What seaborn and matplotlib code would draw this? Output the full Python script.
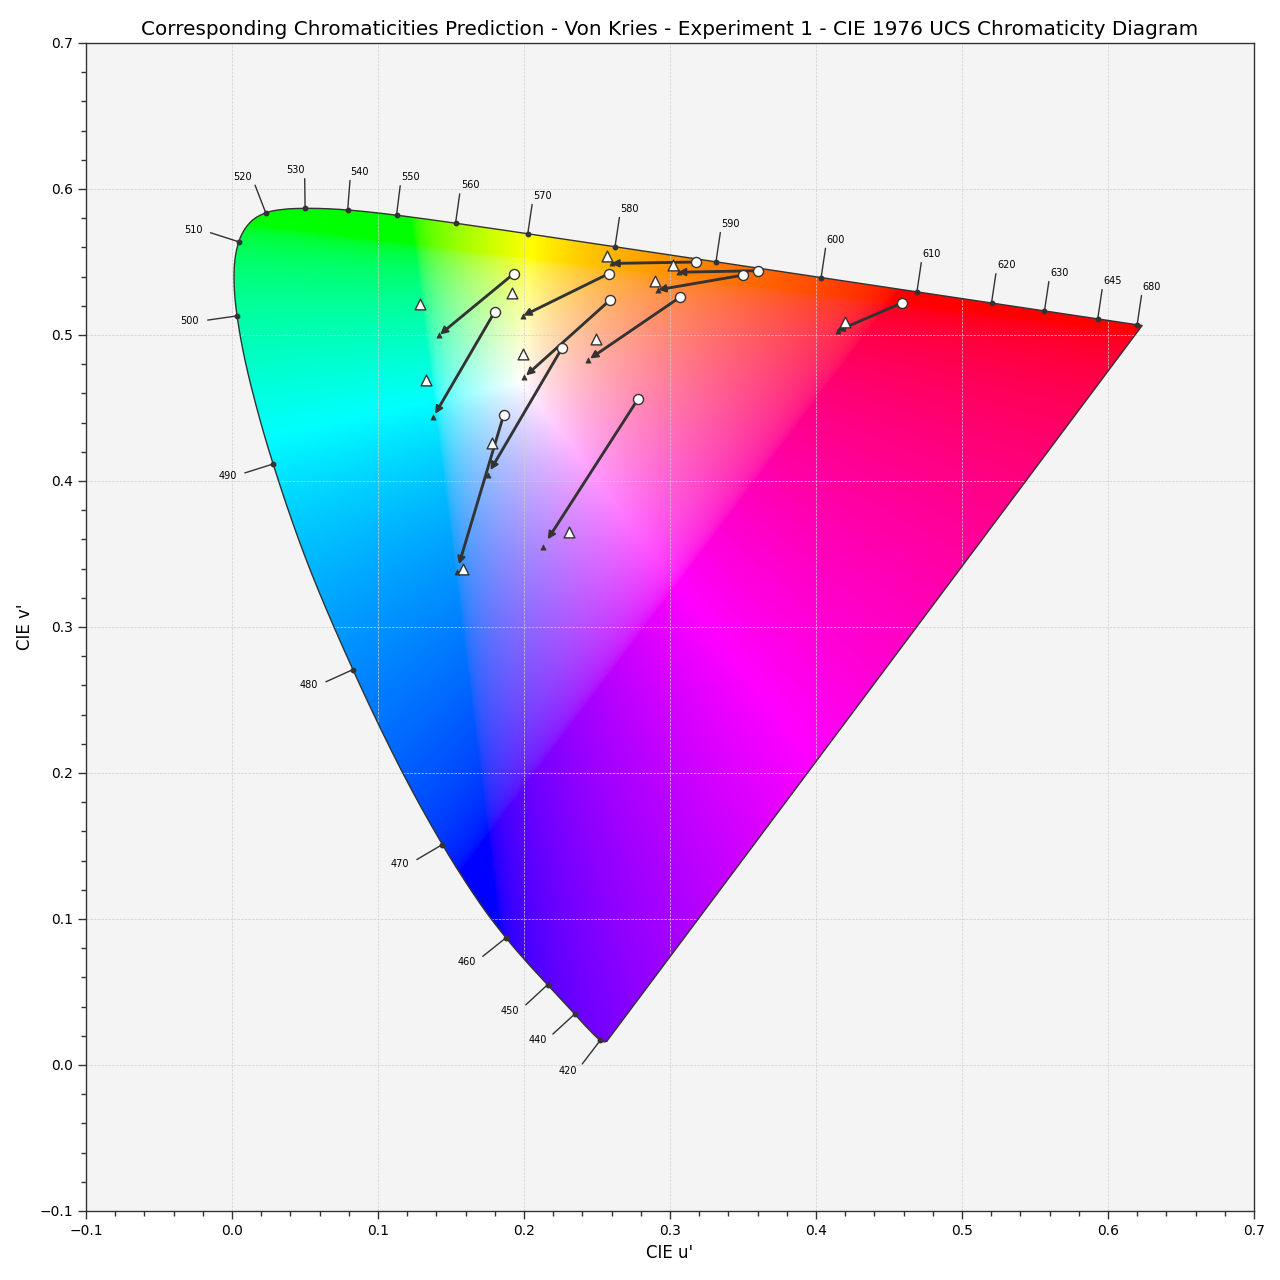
import numpy as np
import pandas as pd
import matplotlib
matplotlib.use("Agg")
import matplotlib.pyplot as plt
import seaborn as sns
from matplotlib.patches import Polygon
from matplotlib.ticker import MultipleLocator

# CIE 1931 2 degree spectral locus chromaticities (x, y), 380-700 nm in 5 nm steps
WAVELENGTHS = list(range(380, 705, 5))
LOCUS_X = [0.17411, 0.17401, 0.17380, 0.17356, 0.17334, 0.17302, 0.17258, 0.17209,
           0.17141, 0.17030, 0.16888, 0.16690, 0.16441, 0.16110, 0.15664, 0.15099,
           0.14396, 0.13550, 0.12412, 0.10959, 0.09129, 0.06871, 0.04539, 0.02346,
           0.00817, 0.00386, 0.01387, 0.03885, 0.07430, 0.11416, 0.15472, 0.19288,
           0.22962, 0.26578, 0.30160, 0.33736, 0.37310, 0.40874, 0.44406, 0.47877,
           0.51249, 0.54479, 0.57515, 0.60293, 0.62704, 0.64823, 0.66576, 0.68008,
           0.69150, 0.70061, 0.70792, 0.71403, 0.71903, 0.72303, 0.72599, 0.72827,
           0.72997, 0.73109, 0.73199, 0.73272, 0.73342, 0.73405, 0.73439, 0.73459,
           0.73469]
LOCUS_Y = [0.00496, 0.00498, 0.00492, 0.00492, 0.00480, 0.00478, 0.00480, 0.00483,
           0.00510, 0.00579, 0.00690, 0.00856, 0.01086, 0.01379, 0.01771, 0.02274,
           0.02970, 0.03988, 0.05780, 0.08684, 0.13270, 0.20072, 0.29498, 0.41270,
           0.53842, 0.65482, 0.75019, 0.81202, 0.83380, 0.82621, 0.80586, 0.78163,
           0.75433, 0.72432, 0.69231, 0.65885, 0.62445, 0.58961, 0.55471, 0.52020,
           0.48659, 0.45443, 0.42423, 0.39650, 0.37249, 0.35139, 0.33401, 0.31975,
           0.30834, 0.29930, 0.29203, 0.28593, 0.28093, 0.27695, 0.27401, 0.27173,
           0.27003, 0.26891, 0.26801, 0.26728, 0.26658, 0.26595, 0.26561, 0.26541,
           0.26531]
LABEL_WAVELENGTHS = [420, 440, 450, 460, 470, 480, 490, 500, 510, 520, 530, 540,
                     550, 560, 570, 580, 590, 600, 610, 620, 630, 645, 680]

# Breneman experiment 1 samples
SAMPLES = ["Gray", "Red", "Skin", "Orange", "Brown", "Yellow", "Foliage",
           "Green", "Blue-green", "Blue", "Sky", "Purple"]
TEST_U = [0.259, 0.459, 0.307, 0.360, 0.350, 0.318, 0.258, 0.193, 0.180, 0.186, 0.226, 0.278]
TEST_V = [0.524, 0.522, 0.526, 0.544, 0.541, 0.550, 0.542, 0.542, 0.516, 0.445, 0.491, 0.456]
REF_U = [0.199, 0.420, 0.249, 0.302, 0.290, 0.257, 0.192, 0.129, 0.133, 0.158, 0.178, 0.231]
REF_V = [0.487, 0.509, 0.497, 0.548, 0.537, 0.554, 0.529, 0.521, 0.469, 0.340, 0.426, 0.365]
PRED_U = [0.200, 0.415, 0.244, 0.306, 0.292, 0.260, 0.199, 0.142, 0.138, 0.154, 0.175, 0.213]
PRED_V = [0.471, 0.503, 0.483, 0.543, 0.531, 0.549, 0.513, 0.500, 0.444, 0.338, 0.404, 0.355]

DARK = "#333333"

sns.set_theme(style="ticks")
plt.rcParams.update({
    "font.family": ["DejaVu Sans"],
    "axes.facecolor": "#F4F4F4",
    "axes.edgecolor": DARK,
    "axes.linewidth": 1.0,
    "text.color": "black",
    "axes.labelcolor": "black",
    "axes.titlecolor": "black",
    "xtick.color": DARK, "ytick.color": DARK,
    "xtick.labelcolor": "black", "ytick.labelcolor": "black",
})

fig = plt.figure(figsize=(12.8, 12.8), dpi=100)
ax = fig.add_axes([86 / 1280, 1 - 1211 / 1280, 1168 / 1280, 1168 / 1280])


def xy_to_uv(x, y):
    x = np.asarray(x, float)
    y = np.asarray(y, float)
    d = -2 * x + 12 * y + 3
    return 4 * x / d, 9 * y / d


def smooth_curve(px, py, sub=12):
    # Catmull-Rom rendering of the polyline through the given points
    P = np.column_stack([px, py])
    P = np.vstack([P[0], P, P[-1]])
    out = []
    t = np.linspace(0, 1, sub, endpoint=False)[:, None]
    for k in range(1, len(P) - 2):
        p0, p1, p2, p3 = P[k - 1], P[k], P[k + 1], P[k + 2]
        seg = 0.5 * ((2 * p1) + (-p0 + p2) * t + (2 * p0 - 5 * p1 + 4 * p2 - p3) * t ** 2
                     + (-p0 + 3 * p1 - 3 * p2 + p3) * t ** 3)
        out.append(seg)
    out.append(P[-2][None, :])
    out = np.vstack(out)
    return out[:, 0], out[:, 1]


LU, LV = xy_to_uv(LOCUS_X, LOCUS_Y)
SU, SV = smooth_curve(LU, LV)

# colour fill
N = 800
uu = np.linspace(0, 0.7, N)
vv = np.linspace(0.7, 0, N)
U, V = np.meshgrid(uu, vv)
with np.errstate(divide="ignore", invalid="ignore"):
    d = 6 * U - 16 * V + 12
    x = 9 * U / d
    y = 4 * V / d
    y = np.where(y <= 1e-6, 1e-6, y)
    XYZ = np.dstack([x / y, np.ones_like(x), (1 - x - y) / y])
M = np.array([[3.2406, -1.5372, -0.4986],
              [-0.9689, 1.8758, 0.0415],
              [0.0557, -0.2040, 1.0570]])
rgb = XYZ @ M.T
enc = np.where(rgb <= 0.0031308, 12.92 * rgb, 1.055 * np.abs(rgb) ** (1 / 2.4) - 0.055)
mx = enc.max(axis=-1, keepdims=True)
mx[mx <= 0] = 1
enc = np.clip(enc / mx, 0, 1)
enc = np.nan_to_num(enc)

poly = Polygon(np.column_stack([SU, SV]), closed=True, facecolor="none",
               edgecolor="none", transform=ax.transData)
ax.add_patch(poly)
im = ax.imshow(enc, extent=(0, 0.7, 0, 0.7), origin="upper",
               interpolation="bilinear", zorder=1, aspect="auto")
im.set_clip_path(poly)

# locus outline
ax.plot(np.r_[SU, SU[0]], np.r_[SV, SV[0]], color=DARK, lw=1.0, zorder=3)

# wavelength labels
eu, ev = xy_to_uv(1 / 3, 1 / 3)
wl = np.array(WAVELENGTHS)
for lab in LABEL_WAVELENGTHS:
    i = int(np.where(wl == lab)[0][0])
    l, r = max(i - 1, 0), min(i + 1, len(wl) - 1)
    du, dv = LU[r] - LU[l], LV[r] - LV[l]
    nrm = np.array([-dv, du])
    if np.dot(nrm, [LU[i] - eu, LV[i] - ev]) < 0:
        nrm = -nrm
    nrm = nrm / np.linalg.norm(nrm)
    p0 = np.array([LU[i], LV[i]])
    p1 = p0 + nrm * 0.0203
    pt = p0 + nrm * 0.0262
    ax.plot([p0[0], p1[0]], [p0[1], p1[1]], color=DARK, lw=1.0, zorder=4)
    ax.plot(p0[0], p0[1], "o", color=DARK, ms=3.2, zorder=4)
    ax.text(pt[0], pt[1], str(lab), ha="left" if nrm[0] >= 0 else "right",
            va="center", fontsize=7, color="black", zorder=4)

# arrows test -> prediction
for tu, tv, pu, pv in zip(TEST_U, TEST_V, PRED_U, PRED_V):
    ax.arrow(tu, tv, 0.9 * (pu - tu), 0.9 * (pv - tv), head_width=0.005,
             head_length=0.005, width=0.001, color=DARK, zorder=5)

df_t = pd.DataFrame({"u": TEST_U, "v": TEST_V, "sample": SAMPLES})
df_m = pd.DataFrame({"u": REF_U, "v": REF_V, "sample": SAMPLES})
df_p = pd.DataFrame({"u": PRED_U, "v": PRED_V, "sample": SAMPLES})

sns.scatterplot(data=df_p, x="u", y="v", marker="^", s=14, color=DARK,
                edgecolor=DARK, linewidth=0.5, ax=ax, zorder=4, legend=False)
sns.scatterplot(data=df_t, x="u", y="v", marker="o", s=52, color="white",
                edgecolor=DARK, linewidth=1.0, ax=ax, zorder=6, legend=False)
sns.scatterplot(data=df_m, x="u", y="v", marker="^", s=60, color="white",
                edgecolor=DARK, linewidth=1.0, ax=ax, zorder=6, legend=False)

ax.set_xlim(-0.1, 0.7)
ax.set_ylim(-0.1, 0.7)
ax.xaxis.set_major_locator(MultipleLocator(0.1))
ax.yaxis.set_major_locator(MultipleLocator(0.1))
ax.xaxis.set_minor_locator(MultipleLocator(0.02))
ax.yaxis.set_minor_locator(MultipleLocator(0.02))
ax.tick_params(which="major", length=6, width=1, labelsize=10, direction="out")
ax.tick_params(which="minor", length=3.5, width=1, direction="out")
ax.grid(True, which="major", linestyle="--", linewidth=0.5, color="#CFCFCF", zorder=2)
ax.set_axisbelow(False)
for s in ax.spines.values():
    s.set_zorder(7)

ax.set_title("Corresponding Chromaticities Prediction - Von Kries - Experiment 1 - "
             "CIE 1976 UCS Chromaticity Diagram", fontsize=14.4)
ax.set_xlabel("CIE u'", fontsize=12)
ax.set_ylabel("CIE v'", fontsize=12)

fig.savefig("out.png", dpi=100)
